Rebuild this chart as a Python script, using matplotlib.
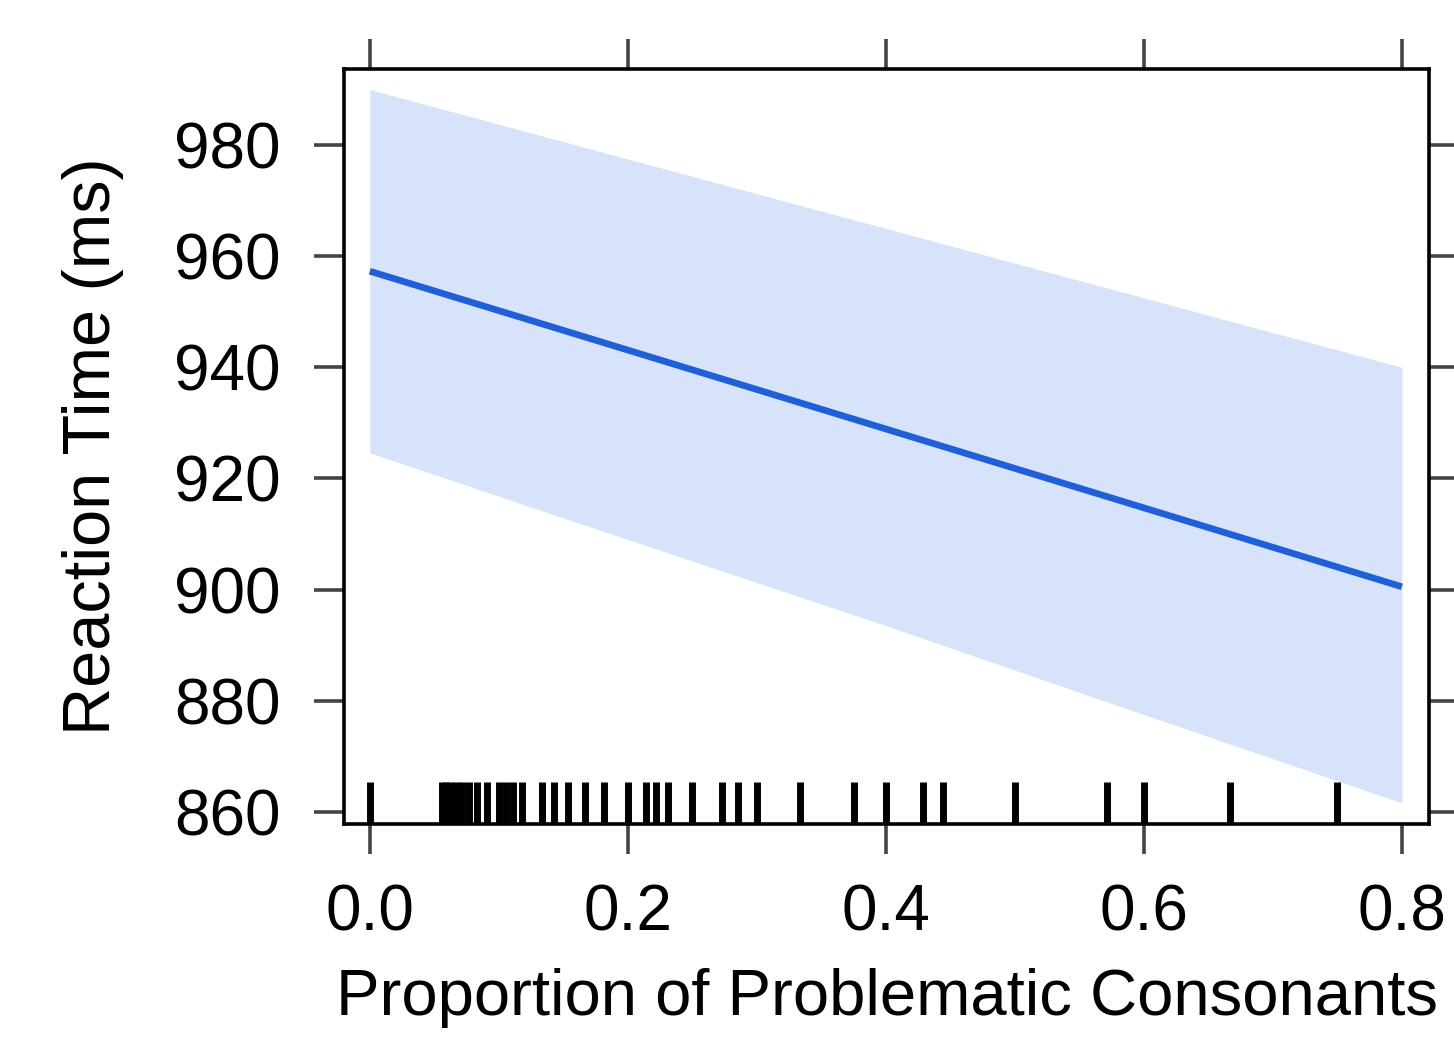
import matplotlib.pyplot as plt
import matplotlib.transforms as mtransforms

plt.rcParams['font.family'] = ['Liberation Sans', 'DejaVu Sans']

# fitted effect line (ms)
line_x = [0.0, 0.8]
line_y = [957.3, 900.5]

# confidence band
band_x = [0.0, 0.2, 0.4, 0.6, 0.8]
band_upper = [990.0, 977.5, 965.0, 952.5, 940.0]
band_lower = [924.6, 909.0, 893.5, 877.5, 861.6]

# observed proportions shown as rug
rug_x = [0.0, 0.0556, 0.0588, 0.0625, 0.0667, 0.0714, 0.0769, 0.0833, 0.0909,
         0.1, 0.1053, 0.1111, 0.1176, 0.1333, 0.1429, 0.1538, 0.1667, 0.1818,
         0.2, 0.2143, 0.2222, 0.2308, 0.25, 0.2727, 0.2857, 0.3, 0.3333,
         0.375, 0.4, 0.4286, 0.4444, 0.5, 0.5714, 0.6, 0.6667, 0.75]

x_ticks = [0.0, 0.2, 0.4, 0.6, 0.8]
y_ticks = [860, 880, 900, 920, 940, 960, 980]

fig = plt.figure(figsize=(14.54, 10.53), dpi=100)
ax = fig.add_axes([0.2366, 0.2175, 0.7462, 0.717])

ax.fill_between(band_x, band_lower, band_upper, color='#d7e3fa', linewidth=0)
ax.plot(line_x, line_y, color='#1f5fd8', linewidth=4.8, solid_capstyle='butt')

trans = mtransforms.blended_transform_factory(ax.transData, ax.transAxes)
ax.vlines(rug_x, 0, 0.056, colors='black', linewidth=5.0, transform=trans)

ax.set_xlim(-0.02, 0.821)
ax.set_ylim(857.8, 993.7)
ax.set_xticks(x_ticks)
ax.set_xticklabels(['0.0', '0.2', '0.4', '0.6', '0.8'])
ax.set_yticks(y_ticks)

for s in ax.spines.values():
    s.set_linewidth(2.6)
ax.tick_params(axis='both', which='major', direction='out', length=21.6,
               width=2.6, color='#444444', labelsize=46,
               top=True, right=True, labeltop=False, labelright=False)
ax.tick_params(axis='x', pad=21)
ax.tick_params(axis='y', pad=24)

ax.set_xlabel('Proportion of Problematic Consonants', fontsize=47, labelpad=18)
ax.set_ylabel('Reaction Time (ms)', fontsize=48, labelpad=36)

fig.savefig('out.png', dpi=100)
